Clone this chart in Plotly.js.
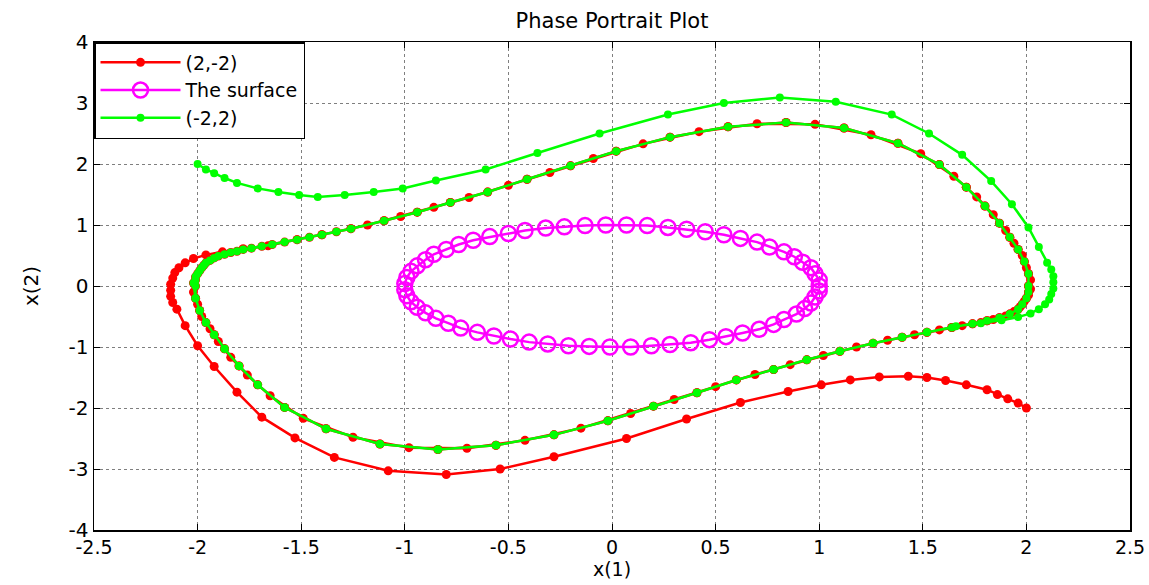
<!DOCTYPE html>
<html>
<head>
<meta charset="utf-8">
<script src="https://cdn.plot.ly/plotly-3.0.1.min.js"></script>
<style>html,body{margin:0;padding:0;background:#fff;}#chart{width:1149px;height:585px;}</style>
</head>
<body>
<div id="chart"></div>
<script>
// Transient of the trajectory starting at (2,-2)
const redStartX = [2.00,1.96,1.91,1.86,1.81,1.71,1.61,1.52,1.43,1.29,1.15,1.01,0.85,0.62,0.36,0.07,-0.28,-0.54,-0.80,-1.08,-1.34,-1.53,-1.69,-1.81,-1.92,-2.00,-2.06,-2.10,-2.12,-2.13,-2.13,-2.13,-2.12,-2.11,-2.09,-2.06,-2.02,-1.96,-1.88,-1.78,-1.66];
const redStartY = [-2.00,-1.92,-1.85,-1.78,-1.70,-1.62,-1.55,-1.50,-1.48,-1.49,-1.54,-1.62,-1.73,-1.91,-2.18,-2.50,-2.80,-3.00,-3.09,-3.03,-2.81,-2.49,-2.15,-1.74,-1.32,-0.98,-0.65,-0.38,-0.27,-0.17,-0.07,0.03,0.13,0.22,0.30,0.38,0.45,0.51,0.56,0.61,0.66];

// Transient of the trajectory starting at (-2,2)
const greenStartX = [-2.00,-1.96,-1.92,-1.87,-1.81,-1.71,-1.61,-1.51,-1.42,-1.29,-1.15,-1.01,-0.85,-0.61,-0.36,-0.06,0.27,0.54,0.81,1.08,1.35,1.53,1.69,1.83,1.93,2.01,2.06,2.10,2.12,2.13,2.13,2.13,2.12,2.11,2.09,2.06,2.02,1.96,1.88,1.78,1.66];
const greenStartY = [2.00,1.91,1.85,1.77,1.69,1.60,1.54,1.49,1.46,1.49,1.54,1.60,1.73,1.91,2.18,2.50,2.81,3.00,3.09,3.02,2.81,2.50,2.15,1.72,1.34,0.96,0.64,0.38,0.27,0.16,0.06,-0.04,-0.13,-0.22,-0.30,-0.38,-0.45,-0.51,-0.56,-0.61,-0.66];

// Limit cycle, sampled points (pass A)
const cycleAX = [-2.01,-2.01,-2.00,-1.98,-1.96,-1.92,-1.87,-1.81,-1.74,-1.64,-1.52,-1.40,-1.26,-1.10,-0.94,-0.78,-0.60,-0.41,-0.20,0.02,0.28,0.56,0.84,1.12,1.38,1.58,1.71,1.80,1.87,1.92,1.96,1.99,2.01,
                 2.01,2.01,2.00,1.98,1.96,1.92,1.87,1.81,1.74,1.64,1.52,1.40,1.26,1.10,0.94,0.78,0.60,0.41,0.20,-0.02,-0.28,-0.56,-0.84,-1.12,-1.38,-1.58,-1.71,-1.80,-1.87,-1.92,-1.96,-1.99,-2.01];
const cycleAY = [0.00,0.10,0.20,0.30,0.38,0.46,0.52,0.57,0.62,0.68,0.76,0.84,0.94,1.07,1.21,1.37,1.54,1.75,1.97,2.21,2.44,2.61,2.68,2.59,2.34,1.99,1.62,1.31,1.03,0.80,0.60,0.40,0.20,
                 0.00,-0.10,-0.20,-0.30,-0.38,-0.46,-0.52,-0.57,-0.62,-0.68,-0.76,-0.84,-0.94,-1.07,-1.21,-1.37,-1.54,-1.75,-1.97,-2.21,-2.44,-2.61,-2.68,-2.59,-2.34,-1.99,-1.62,-1.31,-1.03,-0.80,-0.60,-0.40,-0.20];

// Limit cycle, sampled points (pass B, other phase)
const cycleBX = [-2.02,-2.01,-1.99,-1.97,-1.94,-1.90,-1.84,-1.78,-1.69,-1.58,-1.46,-1.33,-1.18,-1.02,-0.86,-0.69,-0.50,-0.30,-0.09,0.15,0.42,0.70,0.98,1.25,1.49,1.65,1.76,1.84,1.90,1.94,1.98,2.00,2.02,
                 2.02,2.01,1.99,1.97,1.94,1.90,1.84,1.78,1.69,1.58,1.46,1.33,1.18,1.02,0.86,0.69,0.50,0.30,0.09,-0.15,-0.42,-0.70,-0.98,-1.25,-1.49,-1.65,-1.76,-1.84,-1.90,-1.94,-1.98,-2.00,-2.02];
const cycleBY = [0.05,0.15,0.25,0.34,0.42,0.49,0.55,0.60,0.65,0.72,0.80,0.89,1.00,1.14,1.29,1.45,1.65,1.86,2.09,2.33,2.53,2.66,2.65,2.48,2.17,1.80,1.46,1.17,0.91,0.70,0.50,0.30,0.10,
                 -0.05,-0.15,-0.25,-0.34,-0.42,-0.49,-0.55,-0.60,-0.65,-0.72,-0.80,-0.89,-1.00,-1.14,-1.29,-1.45,-1.65,-1.86,-2.09,-2.33,-2.53,-2.66,-2.65,-2.48,-2.17,-1.80,-1.46,-1.17,-0.91,-0.70,-0.50,-0.30,-0.10];

// "The surface" points
const surfX = [1.00,1.00,0.98,0.96,0.92,0.88,0.83,0.76,0.70,0.62,0.54,0.45,0.36,0.27,0.17,0.07,-0.03,-0.13,-0.23,-0.32,-0.42,-0.50,-0.59,-0.67,-0.74,-0.80,-0.86,-0.90,-0.94,-0.97,-0.99,-1.00,-1.00,-0.99,-0.97,-0.94,-0.90,-0.85,-0.79,-0.73,-0.65,-0.57,-0.49,-0.40,-0.31,-0.21,-0.11,-0.01,0.09,0.19,0.28,0.38,0.47,0.55,0.63,0.71,0.78,0.83,0.89,0.93,0.96,0.98,1.00];
const surfY = [0.00,0.10,0.20,0.30,0.39,0.48,0.56,0.64,0.72,0.78,0.84,0.89,0.93,0.96,0.99,1.00,1.00,0.99,0.97,0.95,0.91,0.86,0.81,0.75,0.68,0.60,0.52,0.43,0.33,0.24,0.14,0.04,-0.06,-0.16,-0.26,-0.35,-0.44,-0.53,-0.61,-0.69,-0.76,-0.82,-0.87,-0.92,-0.95,-0.98,-0.99,-1.00,-1.00,-0.98,-0.96,-0.93,-0.88,-0.83,-0.77,-0.71,-0.63,-0.55,-0.46,-0.37,-0.28,-0.18,-0.08];

const seriesNames = ['(2,-2)', 'The surface', '(-2,2)'];
const xTickVals = [-2.5,-2,-1.5,-1,-0.5,0,0.5,1,1.5,2,2.5];
const xTickText = ['-2.5','-2','-1.5','-1','-0.5','0','0.5','1','1.5','2','2.5'];
const yTickVals = [-4,-3,-2,-1,0,1,2,3,4];
const yTickText = ['-4','-3','-2','-1','0','1','2','3','4'];

const redX = redStartX.concat(cycleAX.slice(10), cycleBX, cycleAX);
const redY = redStartY.concat(cycleAY.slice(10), cycleBY, cycleAY);
const greenX = greenStartX.concat(cycleAX.slice(43), cycleAX, cycleBX.slice(0, 12));
const greenY = greenStartY.concat(cycleAY.slice(43), cycleAY, cycleBY.slice(0, 12));

const FONT = 'DejaVu Sans, Arial, sans-serif';

const traces = [
  {x: redX, y: redY, mode: 'lines+markers', name: seriesNames[0],
   line: {color: '#ff0000', width: 2.5}, marker: {color: '#ff0000', size: 9, symbol: 'circle'}},
  {x: surfX, y: surfY, mode: 'lines+markers', name: seriesNames[1],
   line: {color: '#ff00ff', width: 2.5},
   marker: {symbol: 'circle-open', size: 15, color: '#ff00ff', line: {color: '#ff00ff', width: 2.5}}},
  {x: greenX, y: greenY, mode: 'lines+markers', name: seriesNames[2],
   line: {color: '#00ff00', width: 2.5}, marker: {color: '#00ff00', size: 8, symbol: 'circle'}}
];

const axisCommon = {
  ticks: 'inside', ticklen: 6, tickwidth: 1, tickcolor: '#000',
  showline: true, linecolor: '#000', linewidth: 1.5, mirror: 'ticks',
  showgrid: true, gridcolor: '#7f7f7f', griddash: 'dot', gridwidth: 1,
  zeroline: false, tickfont: {family: FONT, size: 20, color: '#000'}
};

const layout = {
  width: 1149, height: 585,
  margin: {l: 94, r: 19, t: 42, b: 55},
  paper_bgcolor: '#fff', plot_bgcolor: '#fff',
  font: {family: FONT, color: '#000'},
  title: {text: 'Phase Portrait Plot', font: {family: FONT, size: 21, color: '#000'},
          x: 0.5, xref: 'paper', xanchor: 'center', y: 0.965, yref: 'container', yanchor: 'middle'},
  xaxis: Object.assign({}, axisCommon, {range: [-2.5, 2.5], tickmode: 'array', tickvals: xTickVals, ticktext: xTickText,
          tickfont: {family: FONT, size: 19, color: '#000'},
          title: {text: 'x(1)', font: {family: FONT, size: 19, color: '#000'}, standoff: 2}}),
  yaxis: Object.assign({}, axisCommon, {range: [-4, 4], tickmode: 'array', tickvals: yTickVals, ticktext: yTickText,
          title: {text: 'x(2)', font: {family: FONT, size: 20, color: '#000'}, standoff: 24}}),
  showlegend: true,
  legend: {x: 0, y: 1, xanchor: 'left', yanchor: 'top', bgcolor: '#fff', bordercolor: '#000', borderwidth: 1.5,
           font: {family: FONT, size: 19, color: '#000'}, tracegroupgap: 0, itemwidth: 80}
};

Plotly.newPlot('chart', traces, layout, {displayModeBar: false, staticPlot: true});
</script>
</body>
</html>
